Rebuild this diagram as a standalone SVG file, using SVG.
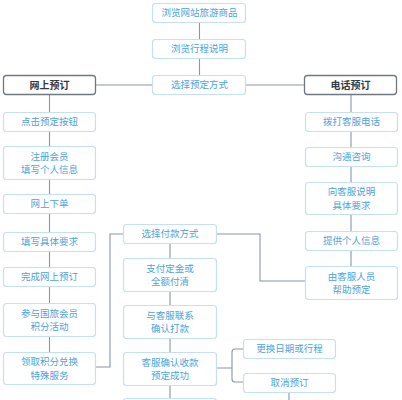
<svg xmlns="http://www.w3.org/2000/svg" width="402" height="400" viewBox="0 0 402 400">
<style>
.b{fill:#fff;stroke:#c5e0f2;stroke-width:1.2}
.h{fill:#fff;stroke:#6f7781;stroke-width:1.3}
.t{font-family:"Noto Sans CJK SC",sans-serif;font-size:9.5px;fill:#4da3dc;text-anchor:middle}
.ht{font-family:"Noto Sans CJK SC",sans-serif;font-size:10px;font-weight:bold;fill:#2f3a45;text-anchor:middle}
.c{fill:none;stroke:#8a96a3;stroke-width:1.1}
</style>
<rect width="402" height="400" fill="#fff"/>
<g id="connectors">
<path class="c" d="M199.5 22V39M199.5 59V75M96 85H152M246 85H304M49.5 95V112M49.5 132V146M49.5 180V194M49.5 214V232M49.5 252V267M49.5 287V303M49.5 337V352M351 95V112M351 132V147M351 167V182M351 215V231M351 251V266M170 244V258M170 292V305M170 338V352M170 385V398"/>
<path class="c" d="M123 234H110V367H96"/>
<path class="c" d="M217 234H260V281H305"/>
<path class="c" d="M217 368H232M243 349H235Q232 349 232 352V379Q232 382 235 382H243"/>
<path class="c" d="M289 392V400"/>
</g>
<g id="n1"><rect class="b" x="152.5" y="3.5" width="93" height="19" rx="3"/><text class="t" x="199.5" y="16.3">浏览网站旅游商品</text></g>
<g id="n2"><rect class="b" x="152.5" y="39.5" width="93" height="19" rx="3"/><text class="t" x="199.5" y="52.3">浏览行程说明</text></g>
<g id="n3"><rect class="b" x="152.5" y="75.5" width="93" height="19" rx="3"/><text class="t" x="199.5" y="88.3">选择预定方式</text></g>
<g id="online"><rect class="h" x="3.5" y="75.5" width="92" height="19" rx="3"/><text class="ht" x="49.5" y="88.5">网上预订</text></g>
<g id="phone"><rect class="h" x="304.5" y="75.5" width="92" height="19" rx="3"/><text class="ht" x="350.5" y="88.5">电话预订</text></g>
<g id="l1"><rect class="b" x="3.5" y="112.5" width="92" height="19" rx="3"/><text class="t" x="49.5" y="125.3">点击预定按钮</text></g>
<g id="l2"><rect class="b" x="3.5" y="146.5" width="92" height="33" rx="3"/><text class="t" x="49.5" y="159.5">注册会员</text><text class="t" x="49.5" y="173.3">填写个人信息</text></g>
<g id="l3"><rect class="b" x="3.5" y="194.5" width="92" height="19" rx="3"/><text class="t" x="49.5" y="207.3">网上下单</text></g>
<g id="l4"><rect class="b" x="3.5" y="232.5" width="92" height="19" rx="3"/><text class="t" x="49.5" y="245.3">填写具体要求</text></g>
<g id="l5"><rect class="b" x="3.5" y="267.5" width="92" height="19" rx="3"/><text class="t" x="49.5" y="280.3">完成网上预订</text></g>
<g id="l6"><rect class="b" x="3.5" y="303.5" width="92" height="33" rx="3"/><text class="t" x="49.5" y="316.5">参与国旅会员</text><text class="t" x="49.5" y="330.3">积分活动</text></g>
<g id="l7"><rect class="b" x="3.5" y="352.5" width="92" height="32" rx="3"/><text class="t" x="49.5" y="365.2">领取积分兑换</text><text class="t" x="49.5" y="379">特殊服务</text></g>
<g id="r1"><rect class="b" x="305.5" y="112.5" width="92" height="19" rx="3"/><text class="t" x="351.5" y="125.3">拨打客服电话</text></g>
<g id="r2"><rect class="b" x="305.5" y="147.5" width="92" height="19" rx="3"/><text class="t" x="351.5" y="160.3">沟通咨询</text></g>
<g id="r3"><rect class="b" x="305.5" y="182.5" width="92" height="32" rx="3"/><text class="t" x="351.5" y="195.2">向客服说明</text><text class="t" x="351.5" y="209">具体要求</text></g>
<g id="r4"><rect class="b" x="305.5" y="231.5" width="92" height="19" rx="3"/><text class="t" x="351.5" y="244.3">提供个人信息</text></g>
<g id="r5"><rect class="b" x="305.5" y="266.5" width="92" height="33" rx="3"/><text class="t" x="351.5" y="279.5">由客服人员</text><text class="t" x="351.5" y="293.3">帮助预定</text></g>
<g id="p1"><rect class="b" x="123.5" y="224.5" width="93" height="19" rx="3"/><text class="t" x="170" y="237.3">选择付款方式</text></g>
<g id="p2"><rect class="b" x="123.5" y="258.5" width="93" height="33" rx="3"/><text class="t" x="170" y="271.5">支付定金或</text><text class="t" x="170" y="285.3">全额付清</text></g>
<g id="p3"><rect class="b" x="123.5" y="305.5" width="93" height="33" rx="3"/><text class="t" x="170" y="318.5">与客服联系</text><text class="t" x="170" y="332.3">确认打款</text></g>
<g id="p4"><rect class="b" x="123.5" y="352.5" width="93" height="33" rx="3"/><text class="t" x="170" y="365.5">客服确认收款</text><text class="t" x="170" y="379.3">预定成功</text></g>
<g id="p5"><rect class="b" x="123.5" y="398.5" width="93" height="20" rx="3"/></g>
<g id="c1"><rect class="b" x="243.5" y="339.5" width="92" height="19" rx="3"/><text class="t" x="289.5" y="352.3">更换日期或行程</text></g>
<g id="c2"><rect class="b" x="243.5" y="373.5" width="92" height="19" rx="3"/><text class="t" x="289.5" y="386.3">取消预订</text></g>
</svg>
